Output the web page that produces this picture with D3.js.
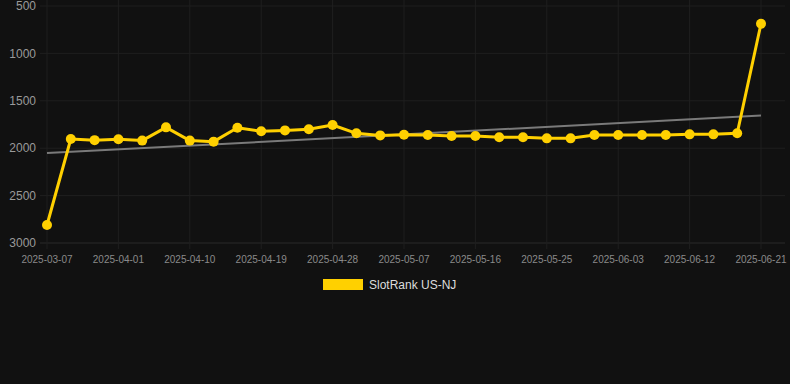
<!DOCTYPE html>
<html><head><meta charset="utf-8">
<script src="https://cdn.jsdelivr.net/npm/d3@7"></script>
<style>html,body{margin:0;padding:0;background:#111111;}svg{display:block;}</style>
</head><body>
<svg id="c" width="790" height="384"></svg>
<script>
const dates = ["2025-03-07","2025-03-26","2025-03-29","2025-04-01","2025-04-04","2025-04-07","2025-04-10","2025-04-13","2025-04-16","2025-04-19","2025-04-22","2025-04-25","2025-04-28","2025-05-01","2025-05-04","2025-05-07","2025-05-10","2025-05-13","2025-05-16","2025-05-19","2025-05-22","2025-05-25","2025-05-28","2025-05-31","2025-06-03","2025-06-06","2025-06-09","2025-06-12","2025-06-15","2025-06-18","2025-06-21"];
const values = [2810,1903,1915,1906,1920,1780,1920,1931,1785,1822,1812,1801,1755,1843,1865,1858,1861,1871,1871,1885,1885,1896,1896,1861,1861,1861,1861,1854,1854,1843,687];
const yTicks = [500,1000,1500,2000,2500,3000];
const xTickLabels = ["2025-03-07","2025-04-01","2025-04-10","2025-04-19","2025-04-28","2025-05-07","2025-05-16","2025-05-25","2025-06-03","2025-06-12","2025-06-21"];
const seriesName = "SlotRank US-NJ";

const svg = d3.select("#c");
const L = 40, R = 785, T = 6, B = 243;
const x = d3.scalePoint().domain(dates).range([47, 761]);
const y = d3.scaleLinear().domain([500, 3000]).range([T, B]);
const gridC = "#1f1f1f";

// horizontal grid
svg.append("g").selectAll("line").data(yTicks).join("line")
  .attr("x1", L).attr("x2", R).attr("y1", d => y(d)).attr("y2", d => y(d))
  .attr("stroke", d => d === 3000 ? "#2a2a2a" : gridC).attr("stroke-width", 1);
// vertical grid
svg.append("g").selectAll("line").data(xTickLabels).join("line")
  .attr("x1", d => x(d)).attr("x2", d => x(d)).attr("y1", 0).attr("y2", B + 6)
  .attr("stroke", gridC).attr("stroke-width", 1);

// y labels
svg.append("g").selectAll("text").data(yTicks).join("text")
  .attr("x", 36).attr("y", d => y(d)).attr("dy", "0.35em")
  .attr("text-anchor", "end").attr("fill", "#9a9a9a")
  .attr("font-family", "Liberation Sans, Arial, sans-serif").attr("font-size", 12)
  .text(d => d);
// x labels
svg.append("g").selectAll("text").data(xTickLabels).join("text")
  .attr("x", d => x(d)).attr("y", 259).attr("dy", "0.35em")
  .attr("text-anchor", "middle").attr("fill", "#8a8a8a")
  .attr("font-family", "Liberation Sans, Arial, sans-serif").attr("font-size", 10)
  .text(d => d);

// trend line (linear regression)
const n = values.length;
const idx = d3.range(n);
const mx = d3.mean(idx), my = d3.mean(values);
const slope = d3.sum(idx, i => (i - mx) * (values[i] - my)) / d3.sum(idx, i => (i - mx) ** 2);
const icpt = my - slope * mx;
svg.append("line")
  .attr("x1", x(dates[0])).attr("y1", y(icpt))
  .attr("x2", x(dates[n - 1])).attr("y2", y(icpt + slope * (n - 1)))
  .attr("stroke", "#7a7a7a").attr("stroke-width", 2);

const gold = "#FFD000";
const line = d3.line().x((d, i) => x(dates[i])).y(d => y(d));
svg.append("path").datum(values).attr("d", line)
  .attr("fill", "none").attr("stroke", gold).attr("stroke-width", 3).attr("stroke-linejoin", "round");
svg.append("g").selectAll("circle").data(values).join("circle")
  .attr("cx", (d, i) => x(dates[i])).attr("cy", d => y(d)).attr("r", 5).attr("fill", gold);

// legend
svg.append("rect").attr("x", 323).attr("y", 279).attr("width", 40).attr("height", 11).attr("fill", gold);
svg.append("text").attr("x", 369).attr("y", 285).attr("dy", "0.35em")
  .attr("fill", "#dddddd").attr("font-family", "Liberation Sans, Arial, sans-serif").attr("font-size", 12)
  .text(seriesName);
</script>
</body></html>
